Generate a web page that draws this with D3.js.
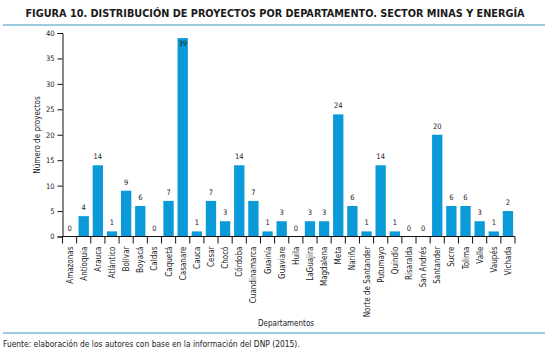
<!DOCTYPE html>
<html><head><meta charset="utf-8">
<script src="https://cdn.jsdelivr.net/npm/d3@7"></script>
<style>
body{margin:0;background:#fff;}
text{font-family:"Liberation Sans Narrow","DejaVu Sans Condensed","Roboto",sans-serif;}
</style></head>
<body><svg id="c" width="550" height="356"></svg>
<script>
const categories = ["Amazonas","Antioquia","Arauca","Atlántico","Bolívar","Boyacá","Caldas","Caquetá","Casanare","Cauca","Cesar","Chocó","Córdoba","Cuandinamarca","Guainía","Guaviare","Huila","LaGuajira","Magdalena","Meta","Nariño","Norte de Santander","Putumayo","Quindío","Risaralda","San Andrés","Santander","Sucre","Tolima","Valle","Vaupés","Vichada"];
const values = [0,4,14,1,9,6,0,7,39,1,7,3,14,7,1,3,0,3,3,24,6,1,14,1,0,0,20,6,6,3,1,5];
const valueLabels = ["0","4","14","1","9","6","0","7","39","1","7","3","14","7","1","3","0","3","3","24","6","1","14","1","0","0","20","6","6","3","1","2"];
const yTicks = [0,5,10,15,20,25,30,35,40];

const svg = d3.select("#c");
const m = {left:62.5, right:515, top:33, bottom:236.5};
const x = d3.scaleBand().domain(categories).range([m.left, m.right]).paddingInner(0.27).paddingOuter(0.135);
const y = d3.scaleLinear().domain([0,40]).range([m.bottom, m.top]);
const blue = "#0a9ad8";
const lineBlue = "#3996c4";

svg.append("text").attr("x",275).attr("y",17).attr("text-anchor","middle")
  .attr("font-size",10.8).attr("font-weight","bold").attr("fill","#1a1a1a")
  .text("FIGURA 10. DISTRIBUCIÓN DE PROYECTOS POR DEPARTAMENTO. SECTOR MINAS Y ENERGÍA");
svg.append("line").attr("x1",3).attr("x2",545).attr("y1",25).attr("y2",25).attr("stroke",lineBlue).attr("stroke-width",1);
svg.append("line").attr("x1",3).attr("x2",545).attr("y1",333).attr("y2",333).attr("stroke",lineBlue).attr("stroke-width",1);

svg.selectAll("rect.bar").data(values).join("rect").attr("class","bar")
  .attr("x",(d,i)=>x(categories[i])).attr("width",x.bandwidth())
  .attr("y",d=>y(d)).attr("height",d=>y(0)-y(d)).attr("fill",blue);

svg.selectAll("text.val").data(values).join("text").attr("class","val")
  .attr("x",(d,i)=>x(categories[i])+x.bandwidth()/2)
  .attr("y",d=>{const t=y(d)-6; return t<m.top+2 ? y(d)+8 : t;})
  .attr("text-anchor","middle").attr("font-size",7.5).attr("fill","#222")
  .text((d,i)=>valueLabels[i]);

const gy = svg.append("g").attr("transform",`translate(${m.left},0)`)
  .call(d3.axisLeft(y).tickValues(yTicks).tickSize(5).tickPadding(3));
gy.select(".domain").attr("stroke","#111");
gy.selectAll(".tick line").attr("stroke","#111");
gy.selectAll("text").attr("font-size",7.5).attr("fill","#222").style("font-family",null);

const gx = svg.append("g").attr("transform",`translate(0,${m.bottom})`);
gx.append("line").attr("x1",m.left).attr("x2",m.right).attr("stroke","#111");
const bounds = d3.range(categories.length+1).map(i=>m.left + i*(m.right-m.left)/categories.length);
gx.selectAll("line.tk").data(bounds).join("line").attr("class","tk")
  .attr("x1",d=>d).attr("x2",d=>d).attr("y1",0).attr("y2",7).attr("stroke","#111");
gx.selectAll("text.cat").data(categories).join("text").attr("class","cat")
  .attr("transform",d=>`translate(${x(d)+x.bandwidth()/2+3},10) rotate(-90)`)
  .attr("text-anchor","end").attr("font-size",8).attr("fill","#222").text(d=>d);

svg.append("text").attr("transform","translate(40,135) rotate(-90)").attr("text-anchor","middle")
  .attr("font-size",8).attr("fill","#222").text("Número de proyectos");
svg.append("text").attr("x",286).attr("y",326).attr("text-anchor","middle")
  .attr("font-size",8).attr("fill","#222").text("Departamentos");
svg.append("text").attr("x",3).attr("y",347).attr("font-size",8.4).attr("fill","#222")
  .text("Fuente: elaboración de los autores con base en la información del DNP (2015).");
</script></body></html>
